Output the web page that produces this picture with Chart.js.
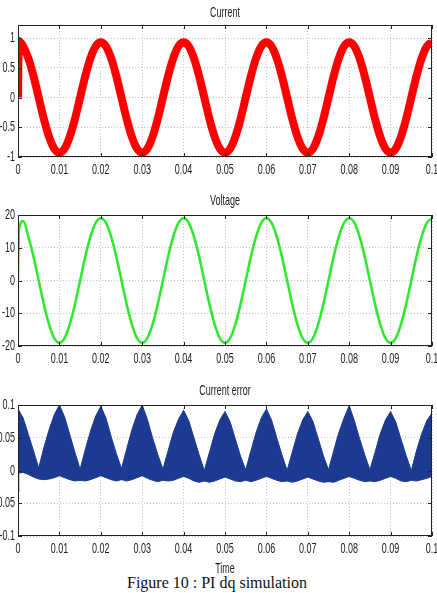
<!DOCTYPE html>
<html>
<head>
<meta charset="utf-8">
<script src="https://cdn.jsdelivr.net/npm/chart.js@4.4.0/dist/chart.umd.min.js"></script>
<style>
html,body{margin:0;padding:0;background:#fff;}
body{width:437px;height:593px;position:relative;overflow:hidden;}
canvas{position:absolute;left:0;}
.lbl{position:absolute;left:0;width:450px;text-align:center;font:15px 'Liberation Sans',Arial,sans-serif;color:#222;line-height:15px;z-index:2;transform:scaleX(0.6);transform-origin:225px 0;}
.cap{position:absolute;left:127px;top:574px;font:16px 'Liberation Serif','Times New Roman',serif;color:#111;white-space:nowrap;}
</style>
</head>
<body>
<div class="lbl" style="top:4px">Current</div>
<div class="lbl" style="top:192px">Voltage</div>
<div class="lbl" style="top:382px">Current error</div>
<div class="lbl" style="top:560px">Time</div>
<div class="cap">Figure 10 : PI dq simulation</div>
<canvas id="cCurrent" width="437" height="185" style="top:0px"></canvas>
<canvas id="cVoltage" width="437" height="186" style="top:188px"></canvas>
<canvas id="cError" width="437" height="186" style="top:378px"></canvas>
<script>
// Data
const time=[0,0.0002,0.00125,0.0025,0.00375,0.005,0.00625,0.0075,0.00875,
  0.01,0.01125,0.0125,0.01375,0.015,0.01625,0.0175,0.01875,
  0.02,0.02125,0.0225,0.02375,0.025,0.02625,0.0275,0.02875,
  0.03,0.03125,0.0325,0.03375,0.035,0.03625,0.0375,0.03875,
  0.04,0.04125,0.0425,0.04375,0.045,0.04625,0.0475,0.04875,
  0.05,0.05125,0.0525,0.05375,0.055,0.05625,0.0575,0.05875,
  0.06,0.06125,0.0625,0.06375,0.065,0.06625,0.0675,0.06875,
  0.07,0.07125,0.0725,0.07375,0.075,0.07625,0.0775,0.07875,
  0.08,0.08125,0.0825,0.08375,0.085,0.08625,0.0875,0.08875,
  0.09,0.09125,0.0925,0.09375,0.095,0.09625,0.0975,0.09875,
  0.1];

const current=[0,0.95,0.86,0.66,0.36,0,-0.36,-0.66,-0.86,
  -0.93,-0.86,-0.66,-0.36,0,0.36,0.66,0.86,
  0.93,0.86,0.66,0.36,0,-0.36,-0.66,-0.86,
  -0.93,-0.86,-0.66,-0.36,0,0.36,0.66,0.86,
  0.93,0.86,0.66,0.36,0,-0.36,-0.66,-0.86,
  -0.93,-0.86,-0.66,-0.36,0,0.36,0.66,0.86,
  0.93,0.86,0.66,0.36,0,-0.36,-0.66,-0.86,
  -0.93,-0.86,-0.66,-0.36,0,0.36,0.66,0.86,
  0.93,0.86,0.66,0.36,0,-0.36,-0.66,-0.86,
  -0.93,-0.86,-0.66,-0.36,0,0.36,0.66,0.86,
  0.93];

const voltage=[0,15,18.2,13.4,7.3,0,-7.3,-13.4,-17.6,
  -19,-17.6,-13.4,-7.3,0,7.3,13.4,17.6,
  19,17.6,13.4,7.3,0,-7.3,-13.4,-17.6,
  -19,-17.6,-13.4,-7.3,0,7.3,13.4,17.6,
  19,17.6,13.4,7.3,0,-7.3,-13.4,-17.6,
  -19,-17.6,-13.4,-7.3,0,7.3,13.4,17.6,
  19,17.6,13.4,7.3,0,-7.3,-13.4,-17.6,
  -19,-17.6,-13.4,-7.3,0,7.3,13.4,17.6,
  19,17.6,13.4,7.3,0,-7.3,-13.4,-17.6,
  -19,-17.6,-13.4,-7.3,0,7.3,13.4,17.6,
  19];

// current error: upper and lower edge of the noisy band
const errorHigh=[0.088,0.092,0.08,0.055,0.03,0.004,0.035,0.062,0.085,
  0.1,0.082,0.055,0.028,0.002,0.032,0.06,0.083,
  0.098,0.08,0.052,0.026,0.003,0.033,0.062,0.085,
  0.1,0.078,0.05,0.025,0.002,0.03,0.058,0.078,
  0.092,0.076,0.05,0.024,0,0.028,0.056,0.077,
  0.09,0.074,0.048,0.022,0.001,0.03,0.058,0.08,
  0.094,0.077,0.05,0.024,0,0.028,0.056,0.077,
  0.09,0.075,0.049,0.023,0.001,0.03,0.058,0.08,
  0.099,0.076,0.049,0.024,0.001,0.028,0.056,0.077,
  0.09,0.074,0.048,0.023,0,0.03,0.056,0.076,
  0.088];
const errorLow=[-0.033,-0.004,-0.003,-0.006,-0.01,-0.013,-0.014,-0.013,-0.011,
  -0.008,-0.011,-0.014,-0.016,-0.015,-0.016,-0.014,-0.011,
  -0.008,-0.011,-0.014,-0.016,-0.014,-0.016,-0.014,-0.011,
  -0.008,-0.012,-0.015,-0.017,-0.015,-0.016,-0.015,-0.012,
  -0.009,-0.012,-0.016,-0.018,-0.016,-0.018,-0.016,-0.013,
  -0.01,-0.013,-0.016,-0.017,-0.015,-0.017,-0.015,-0.012,
  -0.009,-0.012,-0.015,-0.017,-0.016,-0.018,-0.016,-0.013,
  -0.01,-0.013,-0.016,-0.018,-0.017,-0.018,-0.015,-0.012,
  -0.009,-0.012,-0.015,-0.017,-0.016,-0.017,-0.015,-0.012,
  -0.009,-0.012,-0.016,-0.017,-0.015,-0.016,-0.014,-0.012,
  -0.009];

const xTicks=[0,0.01,0.02,0.03,0.04,0.05,0.06,0.07,0.08,0.09,0.1];
const currentTicks=[-1,-0.5,0,0.5,1];
const voltageTicks=[-20,-10,0,10,20];
const errorTicks=[-0.1,-0.05,0,0.05,0.1];

const FONT={family:"'Liberation Sans',Arial,sans-serif",size:15};
const INK='#222';
const SQUEEZE=0.6; // the figure's lettering is very narrow

// narrow lettering: draw every label squeezed round its anchor point
const narrowText={
  id:'narrowText',
  beforeInit(chart){
    const ctx=chart.ctx;
    const fill=ctx.fillText.bind(ctx);
    ctx.fillText=function(t,x,y,mw){
      ctx.save();ctx.translate(x,y);ctx.scale(SQUEEZE,1);
      if(mw===undefined) fill(t,0,0); else fill(t,0,0,mw/SQUEEZE);
      ctx.restore();
    };
  }
};

// box round the plot, with MATLAB style inward tick marks
const frame={
  id:'frame',
  afterDatasetsDraw(chart){
    const {ctx,chartArea:a,scales:{x,y}}=chart;
    ctx.save();
    ctx.strokeStyle=INK;ctx.lineWidth=1;
    ctx.strokeRect(a.left+0.5,a.top+0.5,a.right-a.left-1,a.bottom-a.top-1);
    ctx.beginPath();
    x.ticks.forEach(t=>{
      const px=Math.round(x.getPixelForValue(t.value))+0.5;
      ctx.moveTo(px,a.top);ctx.lineTo(px,a.top+4);
      ctx.moveTo(px,a.bottom);ctx.lineTo(px,a.bottom-4);
    });
    y.ticks.forEach(t=>{
      const py=Math.round(y.getPixelForValue(t.value))+0.5;
      ctx.moveTo(a.left,py);ctx.lineTo(a.left+4,py);
      ctx.moveTo(a.right,py);ctx.lineTo(a.right-4,py);
    });
    ctx.stroke();
    ctx.restore();
  }
};

function pts(vals){return time.map((t,i)=>({x:t,y:vals[i]}));}

function makeChart(id,datasets,yMin,yMax,yTicks,topPad){
  return new Chart(document.getElementById(id),{
    type:'line',
    data:{datasets},
    options:{
      responsive:false,animation:false,
      layout:{padding:{top:topPad,right:5,left:0,bottom:0}},
      plugins:{legend:{display:false},tooltip:{enabled:false}},
      elements:{point:{radius:0}},
      scales:{
        x:{type:'linear',min:0,max:0.1,
          afterBuildTicks:s=>{s.ticks=xTicks.map(v=>({value:v}));},
          afterFit:s=>{s.height=28;s.paddingLeft=0;s.paddingRight=0;},
          grid:{color:'#c4c4c4',drawTicks:false},
          border:{display:false,dash:[1,2]},
          ticks:{padding:4,font:FONT,color:INK,maxRotation:0,autoSkip:false,callback:v=>String(v)}},
        y:{min:yMin,max:yMax,
          afterBuildTicks:s=>{s.ticks=yTicks.map(v=>({value:v}));},
          afterFit:s=>{s.width=18;s.paddingTop=0;s.paddingBottom=0;},
          grid:{color:'#c4c4c4',drawTicks:false},
          border:{display:false,dash:[1,2]},
          ticks:{padding:3,font:FONT,color:INK,callback:v=>String(v)}}
      }
    },
    plugins:[narrowText,frame]
  });
}

makeChart('cCurrent',[{data:pts(current),borderColor:'#ff0000',borderWidth:8,cubicInterpolationMode:'monotone'}],-1,1.22,currentTicks,25);
makeChart('cVoltage',[{data:pts(voltage),borderColor:'#2ee82e',borderWidth:2.5,cubicInterpolationMode:'monotone'}],-20,20,voltageTicks,27);
makeChart('cError',[
  {data:pts(errorHigh),borderColor:'#1c3a92',backgroundColor:'#1c3a92',borderWidth:1,tension:0,fill:'+1'},
  {data:pts(errorLow),borderColor:'#1c3a92',borderWidth:1,tension:0,fill:false}
],-0.1,0.1,errorTicks,27);
</script>
</body>
</html>
